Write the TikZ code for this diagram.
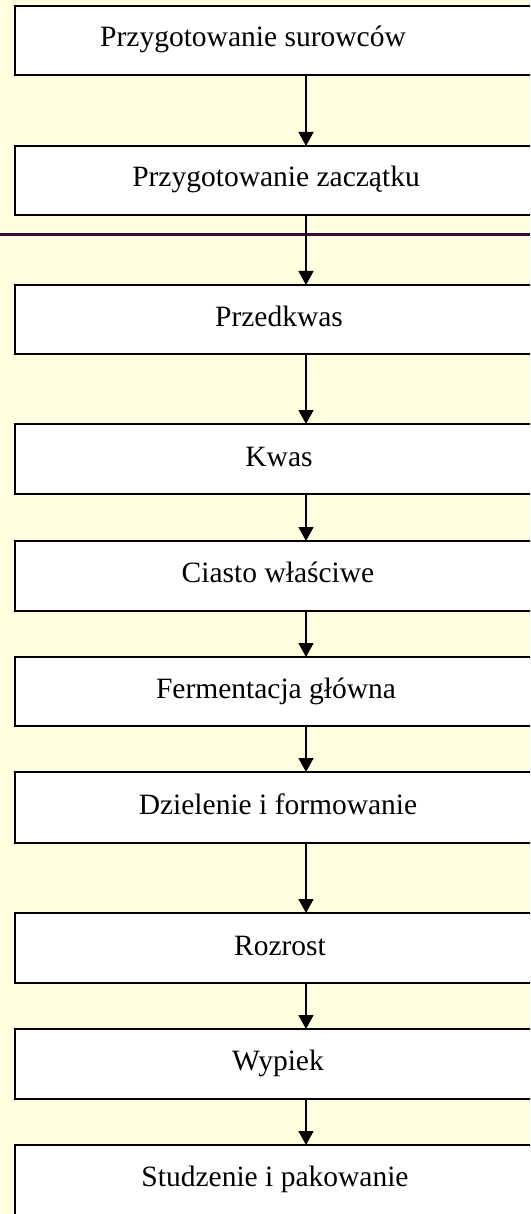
\documentclass[tikz,border=0pt]{standalone}
\usepackage{fontspec}
\setmainfont{Liberation Serif}
\usetikzlibrary{arrows.meta}
\definecolor{bgyellow}{RGB}{255,255,223}
\definecolor{divpurple}{RGB}{60,10,60}
\tikzset{
  stepbox/.style={draw=black, line width=2pt, fill=white, minimum width=545pt, inner sep=0pt, outer sep=0pt},
  lab/.style={font=\fontsize{29.5}{34}\selectfont, inner sep=0pt, anchor=base},
  arr/.style={draw=black, line width=1.6pt, -{Triangle[width=15pt,length=14pt]}}
}
\begin{document}
\begin{tikzpicture}[x=1pt,y=-1pt]
\useasboundingbox (0,0) rectangle (530,1214);
\clip (0,0) rectangle (530,1214);
\fill[bgyellow] (0,0) rectangle (530,1214);
% divider line
\draw[divpurple, line width=3pt] (0,234.5) -- (530,234.5);
\coordinate (ax) at (306,0);
% boxes
\node[stepbox, minimum height=69pt] (b1) at (287.5,40.5) {};
\node[stepbox, minimum height=69pt] (b2) at (287.5,180.5) {};
\node[stepbox, minimum height=69pt] (b3) at (287.5,319.5) {};
\node[stepbox, minimum height=70pt] (b4) at (287.5,459) {};
\node[stepbox, minimum height=70pt] (b5) at (287.5,576) {};
\node[stepbox, minimum height=69pt] (b6) at (287.5,691.5) {};
\node[stepbox, minimum height=71pt] (b7) at (287.5,807.5) {};
\node[stepbox, minimum height=70pt] (b8) at (287.5,948) {};
\node[stepbox, minimum height=70pt] (b9) at (287.5,1064) {};
\node[stepbox, minimum height=76pt] (b10) at (287.5,1183) {};
% labels
\node[lab] (t1) at (253,47) {Przygotowanie surowców};
\node[lab] (t2) at (276,187) {Przygotowanie zaczątku};
\node[lab] (t3) at (279,326) {Przedkwas};
\node[lab] (t4) at (279,466) {Kwas};
\node[lab] (t5) at (278,582) {Ciasto właściwe};
\node[lab] (t6) at (276,698) {Fermentacja główna};
\node[lab] (t7) at (278,814) {Dzielenie i formowanie};
\node[lab] (t8) at (280,955) {Rozrost};
\node[lab] (t9) at (278,1070) {Wypiek};
\node[lab] (t10) at (275,1186) {Studzenie i pakowanie};
% arrows
\draw[arr] (b1.south -| ax) -- (b2.north -| ax);
\draw[arr] (b2.south -| ax) -- (b3.north -| ax);
\draw[arr] (b3.south -| ax) -- (b4.north -| ax);
\draw[arr] (b4.south -| ax) -- (b5.north -| ax);
\draw[arr] (b5.south -| ax) -- (b6.north -| ax);
\draw[arr] (b6.south -| ax) -- (b7.north -| ax);
\draw[arr] (b7.south -| ax) -- (b8.north -| ax);
\draw[arr] (b8.south -| ax) -- (b9.north -| ax);
\draw[arr] (b9.south -| ax) -- (b10.north -| ax);
\end{tikzpicture}
\end{document}
